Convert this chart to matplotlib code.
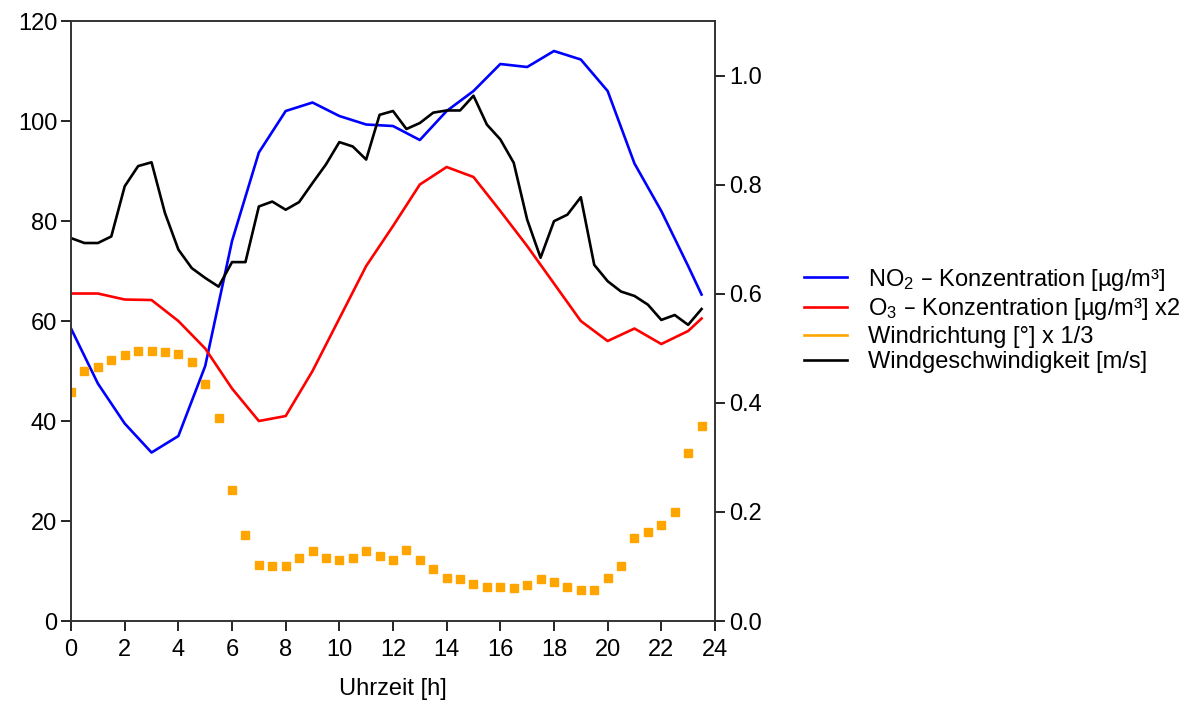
import matplotlib
matplotlib.use("Agg")
import matplotlib.pyplot as plt
from matplotlib.lines import Line2D

plt.rcParams["font.family"] = ["Liberation Sans", "DejaVu Sans"]
plt.rcParams["mathtext.default"] = "regular"
plt.rcParams["font.size"] = 17

# hourly values (plus 23:30) for the two concentrations
hours = [0, 1, 2, 3, 4, 5, 6, 7, 8, 9, 10, 11, 12, 13, 14, 15, 16, 17, 18, 19,
         20, 21, 22, 23, 23.5]
no2 = [58.5, 47.5, 39.5, 33.7, 37.0, 51.0, 76.0, 93.7, 102.0, 103.7, 101.0, 99.3,
       99.0, 96.2, 102.0, 106.0, 111.4, 110.8, 114.0, 112.3, 106.0, 91.5, 82.0,
       71.0, 65.3]
o3_x2 = [65.5, 65.5, 64.3, 64.2, 60.0, 54.5, 46.5, 40.0, 41.0, 50.0, 60.5, 71.0,
         79.0, 87.3, 90.8, 88.8, 82.0, 75.0, 67.5, 60.0, 56.0, 58.5, 55.4, 58.0,
         60.5]

# half-hourly values for wind
half_hours = [i / 2 for i in range(48)]
wind_dir_third = [45.8, 50.0, 50.9, 52.3, 53.3, 54.1, 54.1, 53.8, 53.5, 51.8,
                  47.4, 40.6, 26.2, 17.2, 11.2, 11.0, 11.0, 12.7, 14.0, 12.7,
                  12.2, 12.7, 14.0, 13.0, 12.2, 14.2, 12.2, 10.4, 8.6, 8.4,
                  7.5, 6.85, 6.85, 6.6, 7.2, 8.4, 7.8, 6.85, 6.3, 6.3,
                  8.6, 11.0, 16.6, 17.8, 19.2, 21.8, 33.6, 39.1]
wind_speed = [0.702, 0.693, 0.693, 0.705, 0.797, 0.834, 0.841, 0.748, 0.681, 0.647,
              0.629, 0.613, 0.658, 0.658, 0.760, 0.769, 0.754, 0.768, 0.803, 0.837,
              0.878, 0.870, 0.846, 0.928, 0.935, 0.902, 0.913, 0.932, 0.936, 0.936,
              0.963, 0.910, 0.883, 0.840, 0.736, 0.666, 0.733, 0.745, 0.777, 0.653,
              0.623, 0.604, 0.596, 0.580, 0.552, 0.561, 0.543, 0.572]

labels = ["NO$_2$ – Konzentration [µg/m³]",
          "O$_3$ – Konzentration [µg/m³] x2",
          "Windrichtung [°] x 1/3",
          "Windgeschwindigkeit [m/s]"]

fig = plt.figure(figsize=(11.92, 7.05), dpi=100)
ax = fig.add_axes([0.0596, 0.1191, 0.5402, 0.8511])
ax2 = ax.twinx()

ax.plot(hours, no2, color="blue", lw=1.9)
ax.plot(hours, o3_x2, color="red", lw=1.9)
ax.plot(half_hours, wind_dir_third, ls="none", marker="s", ms=5.5, color="orange")
ax2.plot(half_hours, wind_speed, color="black", lw=1.9)

ax.set_xlim(0, 24)
ax.set_ylim(0, 120)
ax2.set_ylim(0, 1.1)
ax.set_xticks(range(0, 25, 2))
ax.set_yticks(range(0, 121, 20))
ax2.set_yticks([0.0, 0.2, 0.4, 0.6, 0.8, 1.0])
ax2.set_yticklabels(["0.0", "0.2", "0.4", "0.6", "0.8", "1.0"])
ax.set_xlabel("Uhrzeit [h]", labelpad=12)

for a in (ax, ax2):
    a.tick_params(direction="out", length=7, width=1.2, pad=3)
    for s in a.spines.values():
        s.set_linewidth(1.2)
        s.set_color("#333333")
ax.tick_params(axis="x", pad=6)

handles = [Line2D([], [], color=c, lw=1.9) for c in ["blue", "red", "orange", "black"]]
fig.legend(handles, labels, loc="center left", bbox_to_anchor=(0.665, 0.546),
           frameon=False, borderpad=0, handlelength=1.8, handletextpad=0.9,
           labelspacing=0.15)

fig.savefig("out.png", dpi=100)
